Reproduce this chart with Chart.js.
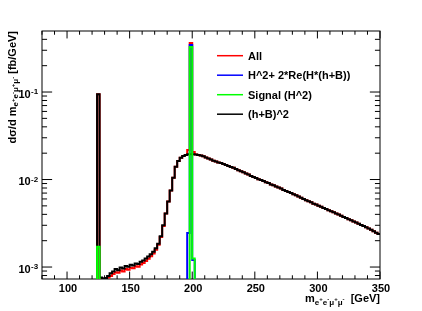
<!DOCTYPE html>
<html>
<head>
<meta charset="utf-8">
<title>m4l spectrum</title>
<script src="https://cdn.jsdelivr.net/npm/chart.js@4.4.0/dist/chart.umd.min.js"></script>
<style>
  html, body { margin: 0; padding: 0; background: #fff; }
</style>
</head>
<body>
<canvas id="chart" width="422" height="311"></canvas>
<script>
// histogram: 2 GeV bins, first low edge at 124 GeV
const binStart = 124;
const binWidth = 2;
const massRange = [80, 350];
const yRange = [7.3e-4, 0.498];

// (h+B)^2
const hbSquared = [
  0.094, 0.00076, 0.00074, 0.00075, 0.00079, 0.00085, 0.00089, 0.00095, 0.00092, 0.00099,
  0.00096, 0.00103, 0.00101, 0.00106, 0.00104, 0.00110, 0.00108, 0.00115, 0.00119, 0.00125,
  0.00132, 0.00140, 0.00150, 0.00164, 0.00185, 0.00225, 0.0030, 0.0041, 0.0056, 0.0075,
  0.0105, 0.0140, 0.0163, 0.0177, 0.0186, 0.0191, 0.0194, 0.0195, 0.0195, 0.0193,
  0.0191, 0.0188, 0.0184, 0.0179, 0.0174, 0.0169, 0.0164, 0.0161, 0.0157, 0.0154,
  0.0150, 0.0147, 0.0143, 0.0139, 0.0136, 0.0132, 0.0128, 0.0124, 0.0121, 0.0117,
  0.0114, 0.0110, 0.0107, 0.0104, 0.0101, 0.0099, 0.0096, 0.0093, 0.0091, 0.0088,
  0.0086, 0.0083, 0.0081, 0.0079, 0.0076, 0.0074, 0.0072, 0.0070, 0.0068, 0.0066,
  0.0064, 0.0062, 0.0060, 0.0058, 0.00565, 0.0055, 0.0053, 0.0052, 0.0050, 0.00487,
  0.00473, 0.0046, 0.00447, 0.00434, 0.00422, 0.0041, 0.00398, 0.00386, 0.00374, 0.00363,
  0.00352, 0.00342, 0.00332, 0.00322, 0.00312, 0.00303, 0.00294, 0.00285, 0.00276, 0.00266,
  0.00257, 0.00247, 0.00238
];

// All
const allContrib = [
  0.094, 0.00073, 0.00071, 0.00072, 0.00076, 0.00079, 0.00083, 0.00087, 0.00086, 0.00091,
  0.00089, 0.00095, 0.00093, 0.00098, 0.00097, 0.00102, 0.00101, 0.00107, 0.00111, 0.00117,
  0.00124, 0.00133, 0.00143, 0.00158, 0.0018, 0.0022, 0.00295, 0.0041, 0.0056, 0.0075,
  0.0105, 0.0140, 0.0163, 0.0177, 0.0186, 0.0191, 0.0218, 0.364, 0.0207, 0.0193,
  0.0191, 0.0188, 0.0184, 0.0179, 0.0174, 0.0169, 0.0164, 0.0161, 0.0157, 0.0154,
  0.0150, 0.0147, 0.0143, 0.0139, 0.0136, 0.0132, 0.0128, 0.0124, 0.0121, 0.0117,
  0.0114, 0.0110, 0.0107, 0.0104, 0.0101, 0.0099, 0.0096, 0.0093, 0.0091, 0.0088,
  0.0086, 0.0083, 0.0081, 0.0079, 0.0076, 0.0074, 0.0072, 0.0070, 0.0068, 0.0066,
  0.0064, 0.0062, 0.0060, 0.0058, 0.00565, 0.0055, 0.0053, 0.0052, 0.0050, 0.00487,
  0.00473, 0.0046, 0.00447, 0.00434, 0.00422, 0.0041, 0.00398, 0.00386, 0.00374, 0.00363,
  0.00352, 0.00342, 0.00332, 0.00322, 0.00312, 0.00303, 0.00294, 0.00285, 0.00276, 0.00266,
  0.00257, 0.00247, 0.00238
];

// H^2 + 2*Re(H*(h+B)), only non-empty bins
const interfMass = [196, 198, 200];
const interfValue = [0.00245, 0.345, 0.0012];

// Signal (H^2), only non-empty bins
const signalMass = [124, 198, 200];
const signalValue = [0.0017, 0.327, 0.00125];

const xMajorTicks = [100, 150, 200, 250, 300, 350];
const yDecades = [-3, -2, -1];
const legendLabels = ['All', 'H^2+ 2*Re(H*(h+B))', 'Signal (H^2)', '(h+B)^2'];
const legendColors = ['#ff0000', '#0000ff', '#00ff00', '#000000'];

const FLOOR = 1e-6; // empty bin, falls below the frame

function histPoints(values) {
  const pts = [{ x: massRange[0], y: FLOOR }];
  values.forEach((v, i) => pts.push({ x: binStart + i * binWidth, y: v > 0 ? v : FLOOR }));
  pts.push({ x: massRange[1], y: values[values.length - 1] });
  return pts;
}

function sparsePoints(masses, values) {
  const pts = [{ x: massRange[0], y: FLOOR }];
  masses.forEach((m, i) => {
    if (i > 0 && masses[i - 1] + binWidth !== m) {
      pts.push({ x: masses[i - 1] + binWidth, y: FLOOR });
    }
    pts.push({ x: m, y: values[i] });
  });
  pts.push({ x: masses[masses.length - 1] + binWidth, y: FLOOR });
  pts.push({ x: massRange[1], y: FLOOR });
  return pts;
}

function font(px) {
  return 'bold ' + px + 'px "Liberation Sans", Arial, Helvetica, sans-serif';
}

function subPieces() {
  const parts = ['e', '+', 'e', '-', '\u03bc', '+', '\u03bc', '-'];
  return parts.map((t, i) => i % 2 === 0 ? { t: t, s: 8, dy: 2.5 } : { t: t, s: 6, dy: -1 });
}

function drawRich(ctx, pieces, xRight, y) {
  let w = 0;
  pieces.forEach(p => { ctx.font = font(p.s); p.w = ctx.measureText(p.t).width; w += p.w; });
  let x = xRight - w;
  ctx.textAlign = 'left';
  ctx.textBaseline = 'alphabetic';
  pieces.forEach(p => { ctx.font = font(p.s); ctx.fillText(p.t, x, y + p.dy); x += p.w; });
}

const rootFrame = {
  id: 'rootFrame',
  beforeDatasetsDraw(chart) {
    const { ctx, chartArea: a, scales: { x, y } } = chart;
    ctx.save();
    ctx.strokeStyle = '#000';
    ctx.lineWidth = 1;
    ctx.strokeRect(a.left, a.top, a.right - a.left, a.bottom - a.top);

    const xMajor = 0.03 * (a.bottom - a.top);
    const yMajor = 0.03 * (a.right - a.left);
    ctx.beginPath();
    for (let m = massRange[0]; m <= massRange[1]; m += 10) {
      const px = x.getPixelForValue(m);
      const len = xMajorTicks.includes(m) ? xMajor : xMajor / 2;
      ctx.moveTo(px, a.bottom); ctx.lineTo(px, a.bottom - len);
      ctx.moveTo(px, a.top); ctx.lineTo(px, a.top + len);
    }
    for (let d = -4; d <= 0; d++) {
      for (let k = 1; k <= 9; k++) {
        const v = k * Math.pow(10, d);
        if (v < yRange[0] || v > yRange[1]) continue;
        const py = y.getPixelForValue(v);
        const len = k === 1 ? yMajor : yMajor / 2;
        ctx.moveTo(a.left, py); ctx.lineTo(a.left + len, py);
        ctx.moveTo(a.right, py); ctx.lineTo(a.right - len, py);
      }
    }
    ctx.stroke();
    ctx.restore();
  },
  afterDraw(chart) {
    const { ctx, chartArea: a, scales: { x, y } } = chart;
    ctx.save();
    ctx.fillStyle = '#000';

    // x tick labels
    ctx.font = font(11);
    ctx.textAlign = 'center';
    ctx.textBaseline = 'alphabetic';
    xMajorTicks.forEach(m => ctx.fillText(String(m), x.getPixelForValue(m) + 1, a.bottom + 13));

    // y tick labels 10^n
    yDecades.forEach(d => {
      const py = y.getPixelForValue(Math.pow(10, d));
      ctx.font = font(11);
      ctx.textAlign = 'right';
      ctx.fillText('10', a.left - 11.3, py + 5.6);
      ctx.font = font(8);
      ctx.textAlign = 'left';
      ctx.fillText('-' + Math.abs(d), a.left - 11, py + 2.3);
    });

    // x title
    drawRich(ctx, [{ t: 'm', s: 11, dy: 0 }].concat(subPieces(), [{ t: '  [GeV]', s: 11, dy: 0 }]),
      a.right, a.bottom + 23);

    // y title, rotated, ending at the frame top
    ctx.save();
    ctx.translate(15.5, a.top);
    ctx.rotate(-Math.PI / 2);
    drawRich(ctx, [{ t: 'd\u03c3/d m', s: 11, dy: 0 }].concat(subPieces(), [{ t: ' [fb/GeV]', s: 11, dy: 0 }]),
      0, 0);
    ctx.restore();

    // legend
    legendLabels.forEach((lab, i) => {
      const ry = 55.7 + i * 19.5;
      ctx.strokeStyle = legendColors[i];
      ctx.lineWidth = 1.5;
      ctx.beginPath();
      ctx.moveTo(217, ry); ctx.lineTo(243, ry);
      ctx.stroke();
      ctx.font = font(11);
      ctx.textAlign = 'left';
      ctx.fillStyle = '#000';
      ctx.fillText(lab, 248, ry + 4);
    });
    ctx.restore();
  }
};

const lineStyle = { borderWidth: 2, pointRadius: 0, fill: false, tension: 0, stepped: 'before' };

new Chart(document.getElementById('chart'), {
  type: 'line',
  data: {
    datasets: [
      Object.assign({ label: legendLabels[0], data: histPoints(allContrib), borderColor: legendColors[0], order: 3 }, lineStyle),
      Object.assign({ label: legendLabels[1], data: sparsePoints(interfMass, interfValue), borderColor: legendColors[1], order: 2 }, lineStyle),
      Object.assign({ label: legendLabels[2], data: sparsePoints(signalMass, signalValue), borderColor: legendColors[2], order: 0 }, lineStyle),
      Object.assign({ label: legendLabels[3], data: histPoints(hbSquared), borderColor: legendColors[3], order: 1 }, lineStyle)
    ]
  },
  options: {
    responsive: false,
    animation: false,
    events: [],
    layout: { padding: { left: 42, right: 42, top: 31, bottom: 32 } },
    plugins: { legend: { display: false }, tooltip: { enabled: false } },
    scales: {
      x: { type: 'linear', display: false, min: massRange[0], max: massRange[1] },
      y: { type: 'logarithmic', display: false, min: yRange[0], max: yRange[1] }
    }
  },
  plugins: [rootFrame]
});
</script>
</body>
</html>
